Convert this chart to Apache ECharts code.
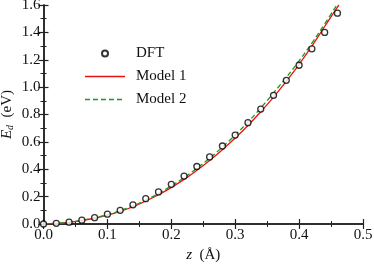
<!DOCTYPE html>
<html><head><meta charset="utf-8">
<script src="https://cdn.jsdelivr.net/npm/echarts@6/dist/echarts.min.js"></script>
<style>html,body{margin:0;padding:0;background:#fff}#c{width:374px;height:264px}</style>
</head><body><div id="c"></div>
<script>
var zDFT = [0,0.02,0.04,0.06,0.08,0.10,0.12,0.14,0.16,0.18,0.20,0.22,0.24,0.26,0.28,0.30,0.32,0.34,0.36,0.38,0.40,0.42,0.44,0.46];
var eDFT = [0,0.005,0.013,0.028,0.046,0.072,0.10,0.14,0.185,0.234,0.29,0.35,0.42,0.49,0.57,0.65,0.74,0.84,0.94,1.05,1.16,1.28,1.40,1.54];
var zModel1 = [0,0.02,0.04,0.06,0.08,0.10,0.12,0.14,0.16,0.18,0.20,0.22,0.24,0.26,0.28,0.30,0.32,0.34,0.36,0.38,0.40,0.42,0.44,0.46,0.4624];
var eModel1 = [0,0.004,0.012,0.025,0.042,0.064,0.092,0.126,0.168,0.214,0.267,0.326,0.392,0.464,0.543,0.628,0.720,0.820,0.927,1.043,1.167,1.300,1.443,1.585,1.6];
var zModel2 = [0,0.02,0.04,0.06,0.08,0.10,0.12,0.14,0.16,0.18,0.20,0.22,0.24,0.26,0.28,0.30,0.32,0.34,0.36,0.38,0.40,0.42,0.44,0.459];
var eModel2 = [0,0.005,0.013,0.027,0.045,0.068,0.097,0.132,0.175,0.223,0.278,0.339,0.407,0.481,0.562,0.650,0.745,0.848,0.958,1.072,1.192,1.322,1.462,1.6];

function pairs(xs, ys){ return xs.map(function(x,i){ return [x, ys[i]]; }); }

var FONT = 'Liberation Serif';
var TXT = '#111';
var axLine = {show:true, lineStyle:{color:'#222', width:1.5}};
var solidIcon = 'path://M0,0L40,0L40,1.3L0,1.3Z';
var dashIcon = 'path://M0,0h5v1.3h-5z M8,0h5v1.3h-5z M16,0h5v1.3h-5z M24,0h5v1.3h-5z M32,0h5v1.3h-5z M40,0h0.01v1.3h-0.01z';

var chart = echarts.init(document.getElementById('c'), null, {renderer:'canvas'});
chart.setOption({
  animation:false,
  backgroundColor:'#fff',
  grid:{left:43.5, right:11, top:5, bottom:40, containLabel:false, outerBoundsMode:'none'},
  legend:{
    orient:'vertical', left:80, top:41, itemWidth:40, itemHeight:6, itemGap:8,
    textStyle:{fontFamily:FONT, fontSize:15, color:TXT, padding:[0,0,0,6]},
    data:[{name:'DFT'},{name:'Model 1', icon:solidIcon},{name:'Model 2', icon:dashIcon}]
  },
  xAxis:[{
    type:'value', min:0, max:0.5, interval:0.1,
    name:'{z|z}  (Å)', nameLocation:'middle', nameGap:19,
    nameTextStyle:{fontFamily:FONT, fontSize:15, color:TXT, rich:{z:{fontFamily:FONT, fontStyle:'italic', fontSize:15, color:TXT}}},
    axisLine:axLine,
    axisTick:{show:true, inside:true, length:5, lineStyle:{color:'#222', width:1.2}},
    minorTick:{show:true, splitNumber:2, length:3, lineStyle:{color:'#222', width:1}},
    axisLabel:{fontFamily:FONT, fontSize:15, color:TXT, margin:4, formatter:function(v){return v.toFixed(1);}},
    splitLine:{show:false}
  },{
    type:'value', min:0, max:0.5, interval:0.1, position:'top',
    axisLine:axLine,
    axisTick:{show:true, inside:true, length:5, lineStyle:{color:'#222', width:1.2}},
    minorTick:{show:true, splitNumber:2, length:3, lineStyle:{color:'#222', width:1}},
    axisLabel:{show:false}, splitLine:{show:false}
  }],
  yAxis:[{
    type:'value', min:0, max:1.6, interval:0.2,
    name:'{e|E}{d|d}  (eV)', nameLocation:'middle', nameGap:28, nameMoveOverlap:false,
    nameTextStyle:{fontFamily:FONT, fontSize:15, color:TXT, lineHeight:17,
      rich:{e:{fontFamily:FONT, fontStyle:'italic', fontSize:15, color:TXT, lineHeight:17},
            d:{fontFamily:FONT, fontStyle:'italic', fontSize:10, color:TXT, lineHeight:17, verticalAlign:'bottom'}}},
    axisLine:axLine,
    axisTick:{show:true, inside:true, length:5, lineStyle:{color:'#222', width:1.2}},
    minorTick:{show:true, splitNumber:2, length:3, lineStyle:{color:'#222', width:1}},
    axisLabel:{fontFamily:FONT, fontSize:15, color:TXT, margin:3, formatter:function(v){return v.toFixed(1);}},
    splitLine:{show:false}
  },{
    type:'value', min:0, max:1.6, interval:0.2, position:'right',
    axisLine:axLine,
    axisTick:{show:true, inside:true, length:5, lineStyle:{color:'#222', width:1.2}},
    minorTick:{show:true, splitNumber:2, length:3, lineStyle:{color:'#222', width:1}},
    axisLabel:{show:false}, splitLine:{show:false}
  }],
  series:[
    {name:'DFT', type:'scatter', data:pairs(zDFT,eDFT), symbol:'circle', symbolSize:6, z:5,
     itemStyle:{color:'#fff', borderColor:'#000', borderWidth:1.3}},
    {name:'Model 1', type:'line', data:pairs(zModel1,eModel1), smooth:true, showSymbol:false, symbol:'none', z:3,
     lineStyle:{color:'#ee1111', width:1.3}, itemStyle:{color:'#ee1111'}},
    {name:'Model 2', type:'line', data:pairs(zModel2,eModel2), smooth:true, showSymbol:false, symbol:'none', z:4,
     lineStyle:{color:'#1a9a1a', width:1.3, type:[5,3]}, itemStyle:{color:'#1a9a1a'}}
  ]
});
</script></body></html>
